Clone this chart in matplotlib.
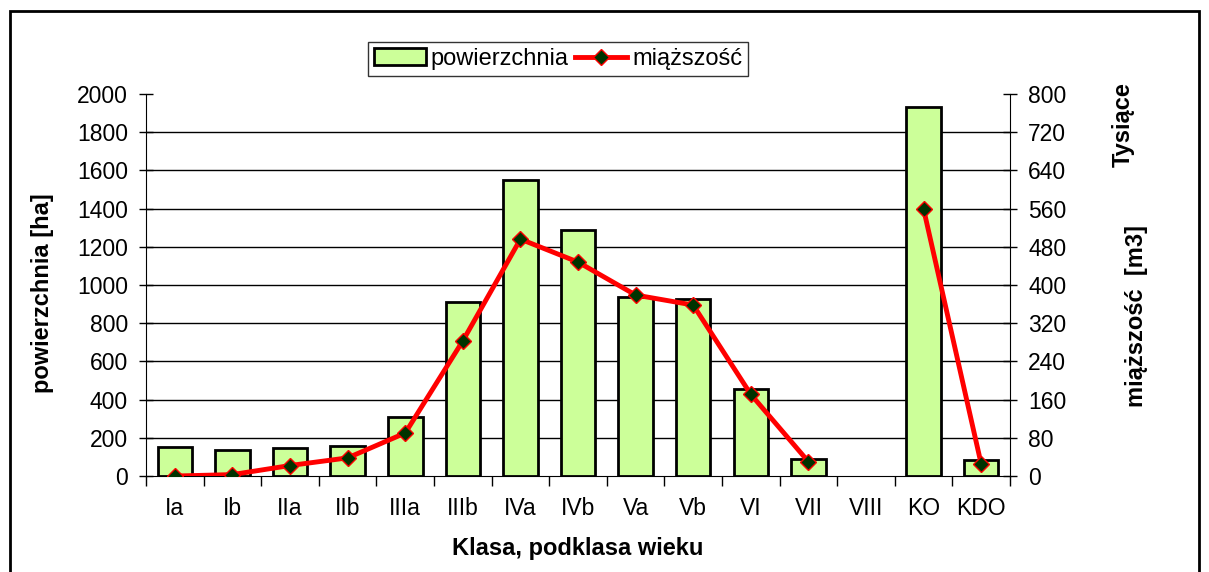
import matplotlib
matplotlib.use('Agg')
import matplotlib.pyplot as plt
import numpy as np
from matplotlib.patches import Rectangle

plt.rcParams['font.family'] = ['Liberation Sans', 'DejaVu Sans']

# dane
klasy = ['Ia', 'Ib', 'IIa', 'IIb', 'IIIa', 'IIIb', 'IVa', 'IVb', 'Va', 'Vb',
         'VI', 'VII', 'VIII', 'KO', 'KDO']
powierzchnia = [153, 136, 148, 157, 310, 910, 1550, 1290, 935, 925,
                455, 89, np.nan, 1933, 84]
miazszosc = [0, 3, 22, 38, 90, 283, 496, 448, 379, 358,
             171, 30, np.nan, 559, 25]

fig = plt.figure(figsize=(12.09, 5.72), dpi=100)
ax = fig.add_axes([0.1208, 0.1678, 0.7146, 0.6679])
ax2 = ax.twinx()

x = np.arange(len(klasy))
bars = ax.bar(x, powierzchnia, width=0.6, color='#CCFF99', edgecolor='black',
              linewidth=2, label='powierzchnia', zorder=3)
line, = ax2.plot(x, miazszosc, color='red', linewidth=3.5, marker='D',
                 markersize=8, markerfacecolor='#003300', markeredgecolor='red',
                 markeredgewidth=1, label='miąższość', zorder=4)

ax.set_xlim(-0.5, len(klasy) - 0.5)
ax.set_ylim(0, 2000)
ax2.set_ylim(0, 800)
ax.set_yticks(range(0, 2001, 200))
ax2.set_yticks(range(0, 801, 80))

for yv in range(200, 2000, 200):
    ax.axhline(yv, color='black', linewidth=1, zorder=1)

ax.set_xticks(x)
ax.set_xticklabels(klasy)
ax.set_xticks(np.arange(-0.5, len(klasy), 1), minor=True)
ax.tick_params(axis='x', which='major', length=0, labelsize=16.5, pad=15)
ax.tick_params(axis='x', which='minor', length=7, direction='out', width=1)
ax.tick_params(axis='y', labelsize=16.5, direction='inout', length=10, width=1, pad=8)
ax2.tick_params(axis='y', labelsize=16.5, direction='inout', length=10, width=1, pad=8)

for a in (ax, ax2):
    a.spines['top'].set_visible(False)
ax.spines['right'].set_visible(False)
ax2.spines['left'].set_visible(False)
ax2.spines['bottom'].set_visible(False)
ax2.set_zorder(ax.get_zorder() + 1)
ax2.patch.set_visible(False)

ax.set_xlabel('Klasa, podklasa wieku', fontsize=17, fontweight='bold', labelpad=12)
ax.set_ylabel('powierzchnia [ha]', fontsize=17, fontweight='bold')
ax.yaxis.set_label_coords(-0.107, 0.48)
ax2.set_ylabel('miąższość  [m3]', fontsize=17, fontweight='bold')
ax2.yaxis.set_label_coords(1.133, 0.42)
fig.text(0.929, 0.783, 'Tysiące', rotation=90, fontsize=17, fontweight='bold',
         ha='center', va='center')

leg = fig.legend(handles=[bars, line], loc='center', bbox_to_anchor=(0.4615, 0.897),
                 ncol=2, fontsize=17, frameon=True, fancybox=False,
                 edgecolor='black', handlelength=2.2, handletextpad=0.2,
                 columnspacing=0.3, borderpad=0.25, borderaxespad=0)
leg.get_frame().set_linewidth(1)

fig.patches.append(Rectangle((0.008, -0.05), 0.984, 1.03, transform=fig.transFigure,
                             fill=False, edgecolor='black', linewidth=2))

fig.savefig('out.png', dpi=100)
